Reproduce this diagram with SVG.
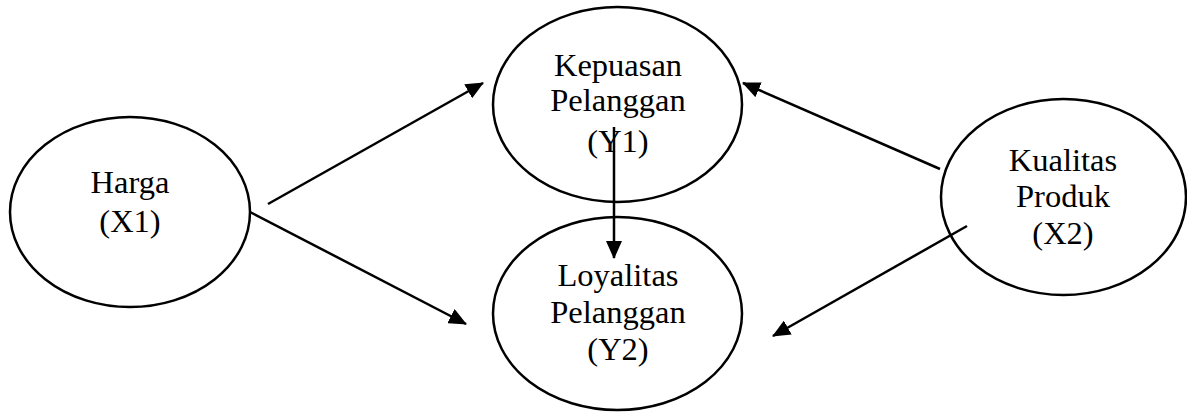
<svg xmlns="http://www.w3.org/2000/svg" width="1187" height="412" viewBox="0 0 1187 412">
<style>
.node ellipse{fill:#fff;stroke:#000;stroke-width:2.5}
.node text{font-family:"Liberation Serif","Times New Roman",serif;font-size:32.5px;fill:#000;text-anchor:middle}
.conn line{stroke:#000;stroke-width:2.5;marker-end:url(#ah)}
</style>
<defs>
<marker id="ah" markerUnits="userSpaceOnUse" markerWidth="18" markerHeight="16" refX="17" refY="8" orient="auto">
<path d="M0,0 L18,8 L0,16 z" fill="#000"/>
</marker>
</defs>
<rect width="1187" height="412" fill="#fff"/>
<g id="harga" class="node">
<ellipse cx="130" cy="212" rx="120" ry="95"/>
<text x="130" y="193">Harga</text>
<text x="130" y="232">(X1)</text>
</g>
<g id="kepuasan" class="node">
<ellipse cx="617.5" cy="104.5" rx="124.5" ry="97.5"/>
<text x="618" y="76">Kepuasan</text>
<text x="618" y="111">Pelanggan</text>
<text x="618" y="152">(Y1)</text>
</g>
<g id="loyalitas" class="node">
<ellipse cx="617.5" cy="313.5" rx="124.5" ry="96.5"/>
<text x="618" y="286">Loyalitas</text>
<text x="618" y="323">Pelanggan</text>
<text x="618" y="360">(Y2)</text>
</g>
<g id="kualitas" class="node">
<ellipse cx="1063.5" cy="197" rx="122.5" ry="98"/>
<text x="1063" y="171">Kualitas</text>
<text x="1063" y="207">Produk</text>
<text x="1063" y="244">(X2)</text>
</g>
<g id="connectors" class="conn">
<line x1="268" y1="204" x2="483" y2="83"/>
<line x1="250" y1="212" x2="466" y2="324"/>
<line x1="940" y1="169" x2="743" y2="83"/>
<line x1="967" y1="226" x2="773" y2="336"/>
<line x1="614" y1="127" x2="614" y2="258"/>
</g>
</svg>
